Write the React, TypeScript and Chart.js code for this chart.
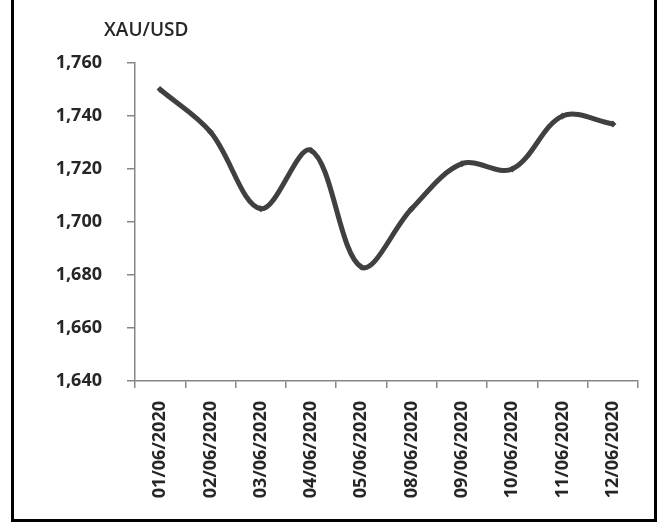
import React, { useEffect, useRef } from "react";
import { Chart, registerables } from "chart.js";

Chart.register(...registerables);

const categories = [
  "01/06/2020",
  "02/06/2020",
  "03/06/2020",
  "04/06/2020",
  "05/06/2020",
  "08/06/2020",
  "09/06/2020",
  "10/06/2020",
  "11/06/2020",
  "12/06/2020",
];
const xauUsd = [1750, 1734, 1705, 1727, 1683, 1705, 1722, 1720, 1740, 1737];
const yMin = 1640;
const yMax = 1760;
const yStep = 20;
const titleText = "XAU/USD";

const FONT = "'Open Sans', sans-serif";

export default function App() {
  const ref = useRef<HTMLCanvasElement | null>(null);

  useEffect(() => {
    if (!ref.current) return;
    const chart = new Chart(ref.current, {
      type: "line",
      data: {
        labels: categories,
        datasets: [
          {
            data: xauUsd,
            borderColor: "#404040",
            backgroundColor: "#404040",
            borderWidth: 5,
            tension: 0.35,
            pointStyle: "rectRot",
            pointRadius: 3.5,
            pointBorderWidth: 0,
            pointBackgroundColor: "#404040",
          },
        ],
      },
      options: {
        animation: false,
        responsive: false,
        devicePixelRatio: 1,
        layout: { padding: { top: 63, right: 25, left: 0, bottom: 0 } },
        plugins: {
          legend: { display: false },
          tooltip: { enabled: false },
          title: { display: false },
        },
        scales: {
          x: {
            type: "category",
            offset: true,
            afterFit: (s: any) => {
              s.height = 141;
            },
            grid: {
              offset: true,
              drawOnChartArea: false,
              drawTicks: true,
              tickLength: 7,
              color: "#868686",
              lineWidth: 1.5,
            },
            border: { display: true, color: "#868686", width: 1.5 },
            ticks: {
              minRotation: 90,
              maxRotation: 90,
              autoSkip: false,
              padding: 13,
              color: "#262626",
              font: { family: FONT, size: 18, weight: "bold" },
            },
          },
          y: {
            min: yMin,
            max: yMax,
            afterFit: (s: any) => {
              s.width = 135;
            },
            grid: {
              drawOnChartArea: false,
              drawTicks: true,
              tickLength: 8,
              color: "#868686",
              lineWidth: 1.5,
            },
            border: { display: true, color: "#868686", width: 1.5 },
            ticks: {
              stepSize: yStep,
              padding: 25,
              color: "#262626",
              font: { family: FONT, size: 18, weight: "bold" },
              callback: (v: any) => Number(v).toLocaleString("en-US"),
            },
          },
        },
      },
    });
    return () => chart.destroy();
  }, []);

  return (
    <div style={{ position: "fixed", left: 0, top: 0, width: 663, height: 522, background: "#fff" }}>
      <canvas
        ref={ref}
        width={663}
        height={522}
        style={{ position: "absolute", left: 0, top: 0, width: 663, height: 522 }}
      />
      <div
        style={{
          position: "absolute",
          left: 104,
          top: 17,
          fontFamily: FONT,
          fontSize: 19,
          fontWeight: 600,
          color: "#262626",
          lineHeight: "24px",
        }}
      >
        {titleText}
      </div>
      <div
        style={{
          position: "absolute",
          left: 11,
          top: -5,
          width: 646,
          height: 527,
          boxSizing: "border-box",
          border: "3px solid #000",
          pointerEvents: "none",
        }}
      />
    </div>
  );
}
